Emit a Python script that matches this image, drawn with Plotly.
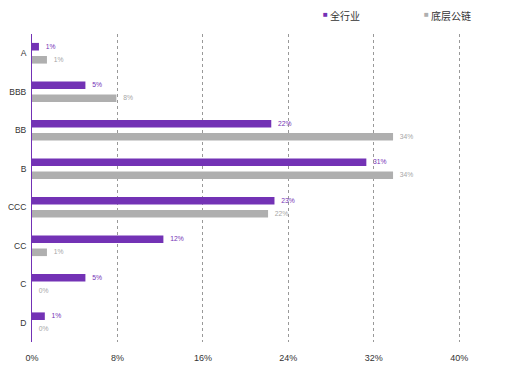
import plotly.graph_objects as go

categories = ["A", "BBB", "BB", "B", "CCC", "CC", "C", "D"]
all_industry = [0.0065, 0.050, 0.224, 0.313, 0.227, 0.123, 0.050, 0.012]
public_chain = [0.014, 0.079, 0.338, 0.338, 0.221, 0.014, 0.0, 0.0]
tick_vals = [0, 0.08, 0.16, 0.24, 0.32, 0.40]
tick_text = ["0%", "8%", "16%", "24%", "32%", "40%"]
series_names = ["全行业", "底层公链"]

PURPLE = "#7332B5"
GRAY = "#AFAFAF"
LABEL_GRAY = "#A6A6A6"
FONT = "Liberation Sans, Arial, sans-serif"
CJK = "Noto Sans CJK SC"

def pct(v):
    return f"  {round(v * 100):.0f}%"

fig = go.Figure()
fig.add_trace(go.Bar(
    y=categories, x=all_industry, orientation="h", name=series_names[0],
    marker=dict(color=PURPLE, line=dict(width=0)),
    text=[pct(v) for v in all_industry], textposition="outside",
    textfont=dict(color=PURPLE, size=8, family=FONT), cliponaxis=False,
    showlegend=False,
))
fig.add_trace(go.Bar(
    y=categories, x=public_chain, orientation="h", name=series_names[1],
    marker=dict(color=GRAY, line=dict(width=0)),
    text=[pct(v) for v in public_chain], textposition="outside",
    textfont=dict(color=LABEL_GRAY, size=8, family=FONT), cliponaxis=False,
    showlegend=False,
))

# legend drawn as text
for xpos, name, col in [(321, series_names[0], PURPLE), (422, series_names[1], GRAY)]:
    fig.add_annotation(xref="paper", yref="paper", x=(xpos - 32) / 470, y=1.0,
                       yshift=20, xanchor="left", yanchor="middle", showarrow=False,
                       text=f'<span style="color:{col};font-size:8px">■</span>',
                       font=dict(size=8, family=FONT))
    fig.add_annotation(xref="paper", yref="paper", x=(xpos + 7 - 32) / 470, y=1.0,
                       yshift=19, xanchor="left", yanchor="middle", showarrow=False,
                       text=name, font=dict(size=10, family=CJK, color="#333333"))

fig.update_layout(
    width=522, height=359,
    margin=dict(l=24, r=28, t=26, b=25),
    paper_bgcolor="white", plot_bgcolor="white",
    barmode="group", bargap=0.32, bargroupgap=0.42,
    font=dict(family=FONT, size=9, color="#333333"),
    xaxis=dict(range=[0, 0.44], tickvals=tick_vals, ticktext=tick_text,
               showgrid=True, gridcolor="#999999", griddash="3px,3px", gridwidth=1,
               zeroline=False, showline=False, ticks="", ticklabelstandoff=9,
               automargin=False,
               tickfont=dict(size=9, family=FONT, color="#333333"), fixedrange=True),
    yaxis=dict(autorange="reversed", showline=True, linecolor=PURPLE, linewidth=1,
               showgrid=False, ticks="", ticklabelstandoff=3, automargin=False,
               tickfont=dict(size=8.5, family=FONT, color="#333333")),
)

fig.write_html("out.html")
